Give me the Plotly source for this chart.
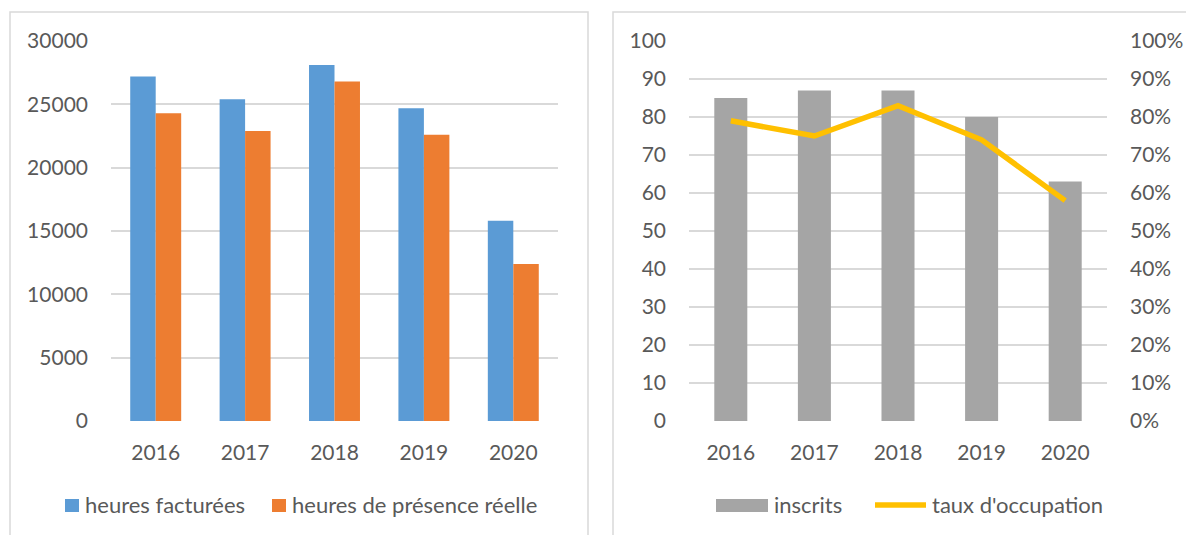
import plotly.graph_objects as go

# ---- data ----
years = ["2016", "2017", "2018", "2019", "2020"]
heures_facturees = [27200, 25400, 28100, 24700, 15800]
heures_presence = [24300, 22900, 26800, 22600, 12400]
inscrits = [85, 87, 87, 80, 63]
taux_occupation = [0.79, 0.75, 0.83, 0.74, 0.58]

left_ticks = [0, 5000, 10000, 15000, 20000, 25000, 30000]
right_ticks = [0, 10, 20, 30, 40, 50, 60, 70, 80, 90, 100]

W, H = 1186, 535
FONT = "Lato"
TXT = "#595959"
GRID = "#d9d9d9"
BLUE, ORANGE, GRAY, GOLD = "#5B9BD5", "#ED7D31", "#A5A5A5", "#FFC000"


def px(x):
    return x / W


def py(y):
    return 1 - y / H


fig = go.Figure()

fig.add_trace(go.Bar(x=years, y=heures_facturees, name="heures facturées",
                     marker=dict(color=BLUE, line=dict(width=0)),
                     width=0.285, offset=-0.285, xaxis="x", yaxis="y"))
fig.add_trace(go.Bar(x=years, y=heures_presence, name="heures de présence réelle",
                     marker=dict(color=ORANGE, line=dict(width=0)),
                     width=0.285, offset=0.0, xaxis="x", yaxis="y"))
fig.add_trace(go.Bar(x=years, y=inscrits, name="inscrits",
                     marker=dict(color=GRAY, line=dict(width=0)),
                     width=0.395, offset=-0.1975, xaxis="x2", yaxis="y2"))
fig.add_trace(go.Scatter(x=years, y=taux_occupation, name="taux d'occupation",
                         mode="lines", line=dict(color=GOLD, width=5.5),
                         xaxis="x2", yaxis="y3"))

ydom = [py(421), py(41)]
tickfont = dict(family=FONT, size=21, color=TXT)

fig.update_layout(
    width=W, height=H,
    margin=dict(l=0, r=0, t=0, b=0, autoexpand=False),
    paper_bgcolor="white", plot_bgcolor="white",
    barmode="overlay",
    showlegend=False,
    font=dict(family=FONT, color=TXT),
    xaxis=dict(domain=[px(111), px(558)], type="category", showgrid=False,
               showline=False, zeroline=False, ticks="", tickfont=tickfont,
               ticklabelstandoff=17, anchor="y", automargin=False),
    yaxis=dict(domain=ydom, range=[0, 30000], tickvals=left_ticks,
               tickformat="d",
               showgrid=True, gridcolor=GRID, gridwidth=1.5, zeroline=False,
               showline=False, ticks="", tickfont=tickfont,
               ticklabelstandoff=22, anchor="x", automargin=False),
    xaxis2=dict(domain=[px(689), px(1107)], type="category", showgrid=False,
                showline=False, zeroline=False, ticks="", tickfont=tickfont,
                ticklabelstandoff=17, anchor="y2", automargin=False),
    yaxis2=dict(domain=ydom, range=[0, 100], tickvals=right_ticks,
                showgrid=True, gridcolor=GRID, gridwidth=1.5, zeroline=False,
                showline=False, ticks="", tickfont=tickfont,
                ticklabelstandoff=22, anchor="x2", automargin=False),
    yaxis3=dict(range=[0, 1], overlaying="y2", side="right", anchor="x2",
                dtick=0.1, tickformat=".0%", showgrid=False, zeroline=False,
                showline=False, ticks="", tickfont=tickfont,
                ticklabelstandoff=22, automargin=False),
)

shapes = [
    # panel borders
    dict(type="rect", xref="paper", yref="paper", x0=px(10), x1=px(588),
         y0=py(545), y1=py(12), line=dict(color=GRID, width=1.5), layer="below"),
    dict(type="rect", xref="paper", yref="paper", x0=px(613), x1=px(1196),
         y0=py(545), y1=py(12), line=dict(color=GRID, width=1.5), layer="below"),
    # legend swatches
    dict(type="rect", xref="paper", yref="paper", x0=px(65), x1=px(79),
         y0=py(512), y1=py(499), fillcolor=BLUE, line=dict(width=0)),
    dict(type="rect", xref="paper", yref="paper", x0=px(272), x1=px(286),
         y0=py(512), y1=py(499), fillcolor=ORANGE, line=dict(width=0)),
    dict(type="rect", xref="paper", yref="paper", x0=px(716), x1=px(768),
         y0=py(512), y1=py(499), fillcolor=GRAY, line=dict(width=0)),
    dict(type="line", xref="paper", yref="paper", x0=px(875), x1=px(926),
         y0=py(505), y1=py(505), line=dict(color=GOLD, width=5.5)),
]

legend_font = dict(family=FONT, size=22, color=TXT)
annotations = [
    dict(text=t, x=px(x), y=py(504), xref="paper", yref="paper",
         xanchor="left", yanchor="middle", showarrow=False, font=legend_font)
    for t, x in [(fig.data[0].name, 83), (fig.data[1].name, 290),
                 (fig.data[2].name, 772), (fig.data[3].name, 930)]
]

fig.update_layout(shapes=shapes, annotations=annotations)
fig.write_html(
    "out.html",
    config={"displayModeBar": False},
    post_script="document.body.style.margin='0';document.body.style.overflow='hidden';",
)
